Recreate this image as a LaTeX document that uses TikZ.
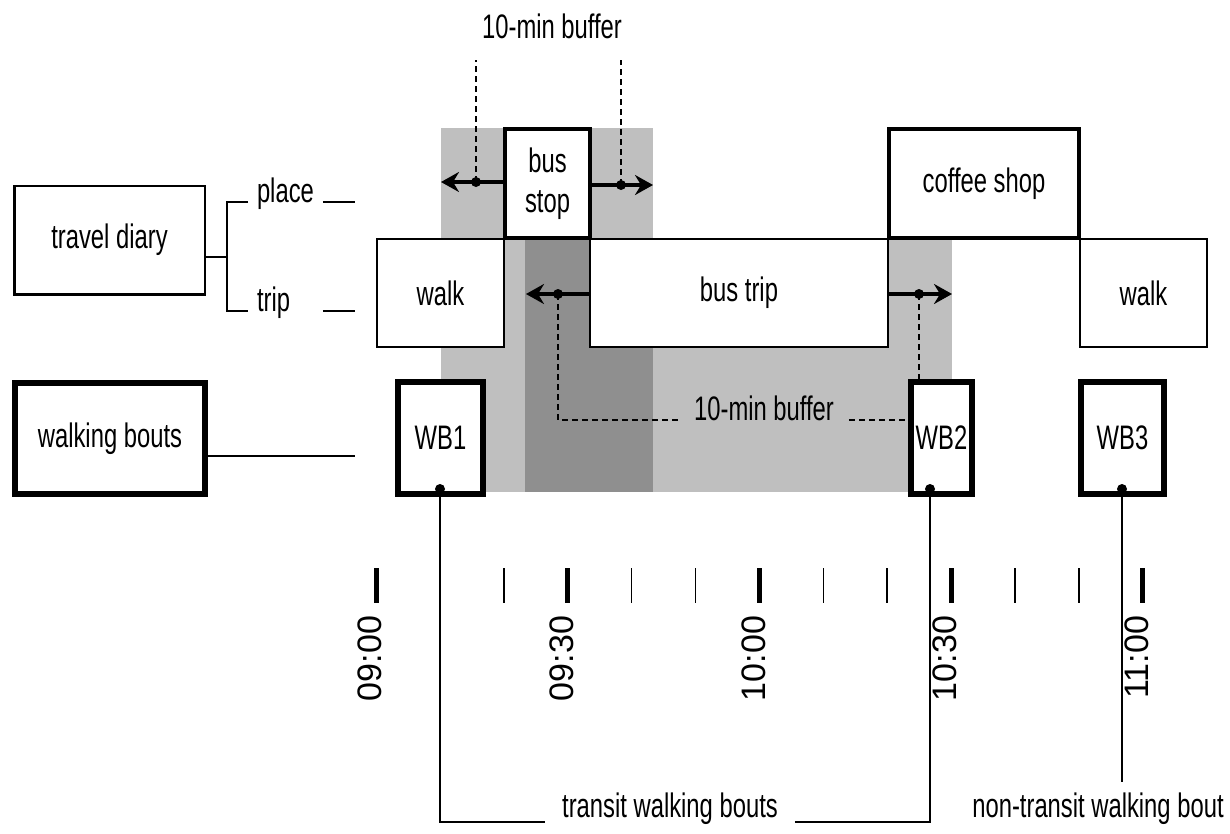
\documentclass[tikz,border=0pt]{standalone}
\usepackage{fontspec}
\setmainfont{Liberation Sans}[FakeStretch=0.7]
\newfontfamily\timefont{Liberation Sans}
\usetikzlibrary{arrows.meta}
\definecolor{bufgray}{gray}{0.75}
\definecolor{overlapgray}{gray}{0.56}

\begin{document}
\begin{tikzpicture}[x=1pt,y=-1pt,line width=2pt,
  every node/.style={font=\fontsize{34}{40}\selectfont},
  thinbox/.style={draw,fill=white,line width=2.5pt,inner sep=0pt,align=center},
  thickbox/.style={thinbox,line width=6pt},
  placebox/.style={thinbox,line width=4pt},
  arr/.style={line width=4pt,-{Stealth[length=18pt,width=20pt,inset=6pt]}},
  buffer/.style={line width=1.2pt,dash pattern=on 6pt off 4pt}]
\path[use as bounding box] (0,0) rectangle (1230,833);
\fill[bufgray] (441,128) rectangle (653,492);
\fill[bufgray] (525,238) rectangle (952,492);
\fill[overlapgray] (525,238) rectangle (653,492);
\node[thinbox,minimum width=190.5,minimum height=108.5] (diary) at (109.5,240) {travel diary};
\node[thickbox,minimum width=190,minimum height=111] (bouts) at (110,438.5) {walking bouts};
\node[thinbox,minimum width=127,minimum height=108] (walkA) at (440.5,293) {walk};
\node[thinbox,minimum width=298,minimum height=108] (bustrip) at (739,293) {bus trip};
\node[thinbox,minimum width=127,minimum height=108] (walkB) at (1143.5,293) {walk};
\node[placebox,minimum width=85,minimum height=109] (busstop) at (547.5,183.5) {bus\\stop};
\node[placebox,minimum width=190,minimum height=109] (coffee) at (984,183.5) {coffee shop};
\node[thickbox,minimum width=85,minimum height=112] (wb1) at (440.5,438) {WB1};
\node[thickbox,minimum width=61,minimum height=112] (wb2) at (941.5,438) {WB2};
\node[thickbox,minimum width=83,minimum height=112] (wb3) at (1122.5,438) {WB3};
\coordinate (br) at (227,256.5);
\node[anchor=base west,inner xsep=8pt] (place) at (248,202) {place};
\node[anchor=base west,inner xsep=8pt] (trip) at (248,311) {trip};
\draw (place.base west) -| (br) |- (trip.base west);
\draw (diary.east |- br) -- (br);
\coordinate (placeend) at (355,202);
\coordinate (tripend) at (355,311);
\coordinate (boutsend) at (355,456);
\draw (place.base east) -- (placeend);
\draw (trip.base east -| place.base east) -- (tripend);
\draw (bouts.east |- boutsend) -- (boutsend);
\coordinate (dotTL) at (476,182);
\coordinate (tipTL) at (441,182);
\coordinate (dotTR) at (621,185);
\coordinate (tipTR) at (653,185);
\coordinate (dotBL) at (558,294);
\coordinate (tipBL) at (526,294);
\coordinate (dotBR) at (919,294);
\coordinate (tipBR) at (952,294);
\node[anchor=base] (topbuf) at (552,38) {10-min buffer};
\node[anchor=base,inner xsep=14pt] (midbuf) at (764,420) {10-min buffer};
\draw[buffer] (dotTL) -- ([yshift=-22pt]dotTL |- topbuf.base);
\draw[buffer] (dotTR) -- ([yshift=-22pt]dotTR |- topbuf.base);
\draw[buffer] (dotBL) |- (midbuf.base west);
\draw[buffer] (midbuf.base east) -- (wb2.west |- midbuf.base);
\draw[buffer] (dotBR) -- (dotBR |- wb2.north);
\draw[arr] (busstop.west |- tipTL) -- (tipTL);
\draw[arr] (busstop.east |- tipTR) -- (tipTR);
\draw[arr] (bustrip.west |- tipBL) -- (tipBL);
\draw[arr] (bustrip.east |- tipBR) -- (tipBR);
\fill (dotTL) circle (5) (dotTR) circle (5) (dotBL) circle (5) (dotBR) circle (5);
\foreach \i in {1,2,4,5,7,8,10,11}
  \draw[line width=1.5pt] (376+63.9*\i,568) -- (376+63.9*\i,603);
\foreach \i/\t in {0/09:00,3/09:30,6/10:00,9/10:30,12/11:00}{
  \draw[line width=5pt] (376+63.9*\i,568) -- (376+63.9*\i,603);
  \node[font=\timefont\fontsize{34}{40}\selectfont,rotate=90,anchor=east,inner sep=3pt] (time\i) at (370+63.9*\i,612) {\t};
}
\node[anchor=base,inner xsep=16pt,inner ysep=9pt] (transit) at (670,817) {transit walking bouts};
\node[anchor=base,inner ysep=9pt] (nontransit) at (1098,817) {non-transit walking bout};
\coordinate (d1) at (440,489);
\coordinate (d2) at (930,489);
\coordinate (d3) at (1122,489);
\draw (d1) |- ([yshift=-5pt]transit.base west);
\draw ([yshift=-5pt]transit.base east) -| (d2);
\draw (d3) -- (d3 |- nontransit.north);
\fill (d1) circle (5) (d2) circle (5) (d3) circle (5);
\end{tikzpicture}
\end{document}
